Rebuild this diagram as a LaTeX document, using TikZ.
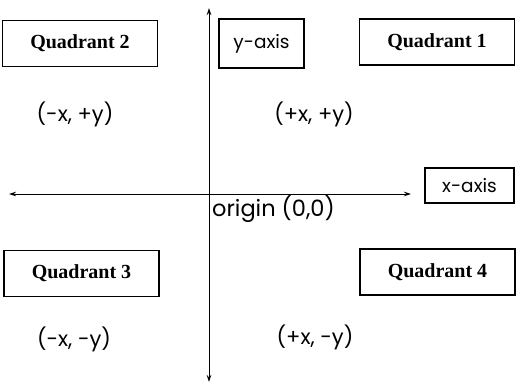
\documentclass[tikz,border=0pt]{standalone}
\usepackage{fontspec}
\setmainfont{Liberation Serif}
\newfontfamily\lblfont{Poppins}
\usetikzlibrary{arrows.meta}
\tikzset{
  quad/.style={draw, line width=1.1pt, minimum width=155pt, minimum height=46pt, font=\fontsize{20}{22}\selectfont\bfseries, inner sep=0pt},
  axbox/.style={draw, line width=1.1pt, inner sep=0pt, font=\lblfont\fontsize{18.5}{20}\selectfont},
  coord/.style={font=\lblfont\fontsize{21}{23}\selectfont, inner sep=0pt},
  axis/.style={line width=0.9pt, {Stealth[length=7pt,width=4.5pt]}-{Stealth[length=7pt,width=4.5pt]}}
}
\begin{document}
\begin{tikzpicture}[x=1pt,y=-1pt]
\useasboundingbox (0,0) rectangle (516,383);
\node[quad] (q2) at (80,43.5) {Quadrant 2};
\node[quad] (q1) at (437,42) {Quadrant 1};
\node[quad] (q3) at (81.5,273.5) {Quadrant 3};
\node[quad] (q4) at (437.5,272) {Quadrant 4};
\node[axbox, minimum width=85pt, minimum height=49pt] (yaxis) at (261.5,43.5) {y-axis};
\node[axbox, minimum width=89pt, minimum height=35pt] (xaxis) at (469.5,185.5) {x-axis};
\node[coord] (c2) at (75,114) {(-x, +y)};
\node[coord] (c1) at (314,114) {(+x, +y)};
\node[coord] (c3) at (74,339) {(-x, -y)};
\node[coord] (c4) at (315,337) {(+x, -y)};
\node[coord, anchor=west, font=\lblfont\fontsize{22.5}{24}\selectfont] (orig) at (212,209) {origin (0,0)};
\coordinate (top) at (209,8);
\coordinate (bot) at (209,382);
\coordinate (left) at (9,194);
\coordinate (right) at (411,194);
\draw[axis] (top) -- (bot);
\draw[axis] (left) -- (right);
\end{tikzpicture}
\end{document}
